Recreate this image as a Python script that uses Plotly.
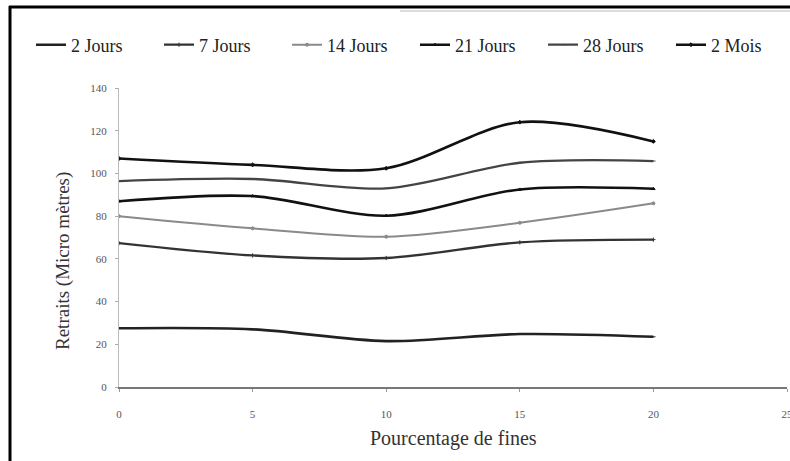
import plotly.graph_objects as go

# Pourcentage de fines (x) and shrinkage values per curing age
fines = [0, 5, 10, 15, 20]
series_names = ["2 Jours", "7 Jours", "14 Jours", "21 Jours", "28 Jours", "2 Mois"]
retrait_2j = [27.5, 27.0, 21.5, 24.8, 23.5]
retrait_7j = [67.4, 61.6, 60.4, 67.7, 69.0]
retrait_14j = [80.0, 74.3, 70.4, 76.9, 86.0]
retrait_21j = [87.0, 89.4, 80.2, 92.5, 92.8]
retrait_28j = [96.4, 97.4, 93.0, 105.0, 105.8]
retrait_2m = [107.0, 104.0, 102.4, 124.0, 115.0]
x_ticks = [0, 5, 10, 15, 20, 25]
y_ticks = [0, 20, 40, 60, 80, 100, 120, 140]

values = [retrait_2j, retrait_7j, retrait_14j, retrait_21j, retrait_28j, retrait_2m]
colors = ["#222222", "#333333", "#8a8a8a", "#111111", "#444444", "#111111"]
symbols = ["line-ew", "cross-thin", "circle", "triangle-up", "line-ew", "diamond"]
widths = [2.6, 2.3, 2.0, 2.6, 2.3, 2.6]

SERIF = "Liberation Serif"

fig = go.Figure()
for name, ys, col, sym, w in zip(series_names, values, colors, symbols, widths):
    fig.add_trace(go.Scatter(
        x=fines, y=ys, name=name, mode="lines+markers",
        line=dict(color=col, width=w, shape="spline", smoothing=0.9),
        marker=dict(color=col, size=3, symbol=sym,
                    line=dict(color=col, width=1)),
    ))

L, R, T, B = 119, 3, 88, 74
W, H = 790, 461
pw, ph = W - L - R, H - T - B


def px_x(px):
    return (px - L) / pw


def px_y(py):
    return (H - B - py) / ph


shapes = [
    # outer frame: left and top borders
    dict(type="line", xref="paper", yref="paper", x0=px_x(10), x1=px_x(10),
         y0=px_y(6), y1=px_y(470), line=dict(color="black", width=3)),
    dict(type="line", xref="paper", yref="paper", x0=px_x(9), x1=px_x(800),
         y0=px_y(7), y1=px_y(7), line=dict(color="black", width=3)),
    dict(type="line", xref="paper", yref="paper", x0=px_x(400), x1=px_x(800),
         y0=px_y(11), y1=px_y(11), line=dict(color="#bbbbbb", width=1)),
]

annotations = [
    dict(text="Retraits (Micro mètres)", xref="paper", yref="paper",
         x=px_x(63), y=px_y(261), textangle=-90, showarrow=False,
         font=dict(family=SERIF, size=19, color="#333333"),
         xanchor="center", yanchor="middle"),
    dict(text="Pourcentage de fines", xref="paper", yref="paper",
         x=px_x(453), y=px_y(438), showarrow=False,
         font=dict(family=SERIF, size=20, color="#333333"),
         xanchor="center", yanchor="middle"),
]

fig.update_layout(
    width=W, height=H,
    margin=dict(l=L, r=R, t=T, b=B, autoexpand=False),
    paper_bgcolor="white", plot_bgcolor="white",
    font=dict(family=SERIF, color="#333333"),
    showlegend=True,
    legend=dict(orientation="h", x=px_x(31), y=px_y(45),
                xanchor="left", yanchor="middle",
                font=dict(family=SERIF, size=18, color="#222222"),
                entrywidth=83, entrywidthmode="pixels",
                itemwidth=30, bgcolor="rgba(0,0,0,0)"),
    shapes=shapes,
    annotations=annotations,
    xaxis=dict(range=[0, 25], tickvals=x_ticks, showgrid=False, zeroline=False,
               showline=True, linecolor="#777777", linewidth=1.5,
               ticks="outside", ticklen=3, tickcolor="#999999",
               ticklabelstandoff=13, ticklabeloverflow="allow",
               tickfont=dict(family=SERIF, size=11, color="#555555")),
    yaxis=dict(range=[0, 140], tickvals=y_ticks, showgrid=False, zeroline=False,
               showline=True, linecolor="#bbbbbb", linewidth=1,
               ticks="outside", ticklen=3, tickcolor="#aaaaaa",
               ticklabelstandoff=6,
               tickfont=dict(family=SERIF, size=11, color="#555555")),
)

fig.write_html("out.html")
